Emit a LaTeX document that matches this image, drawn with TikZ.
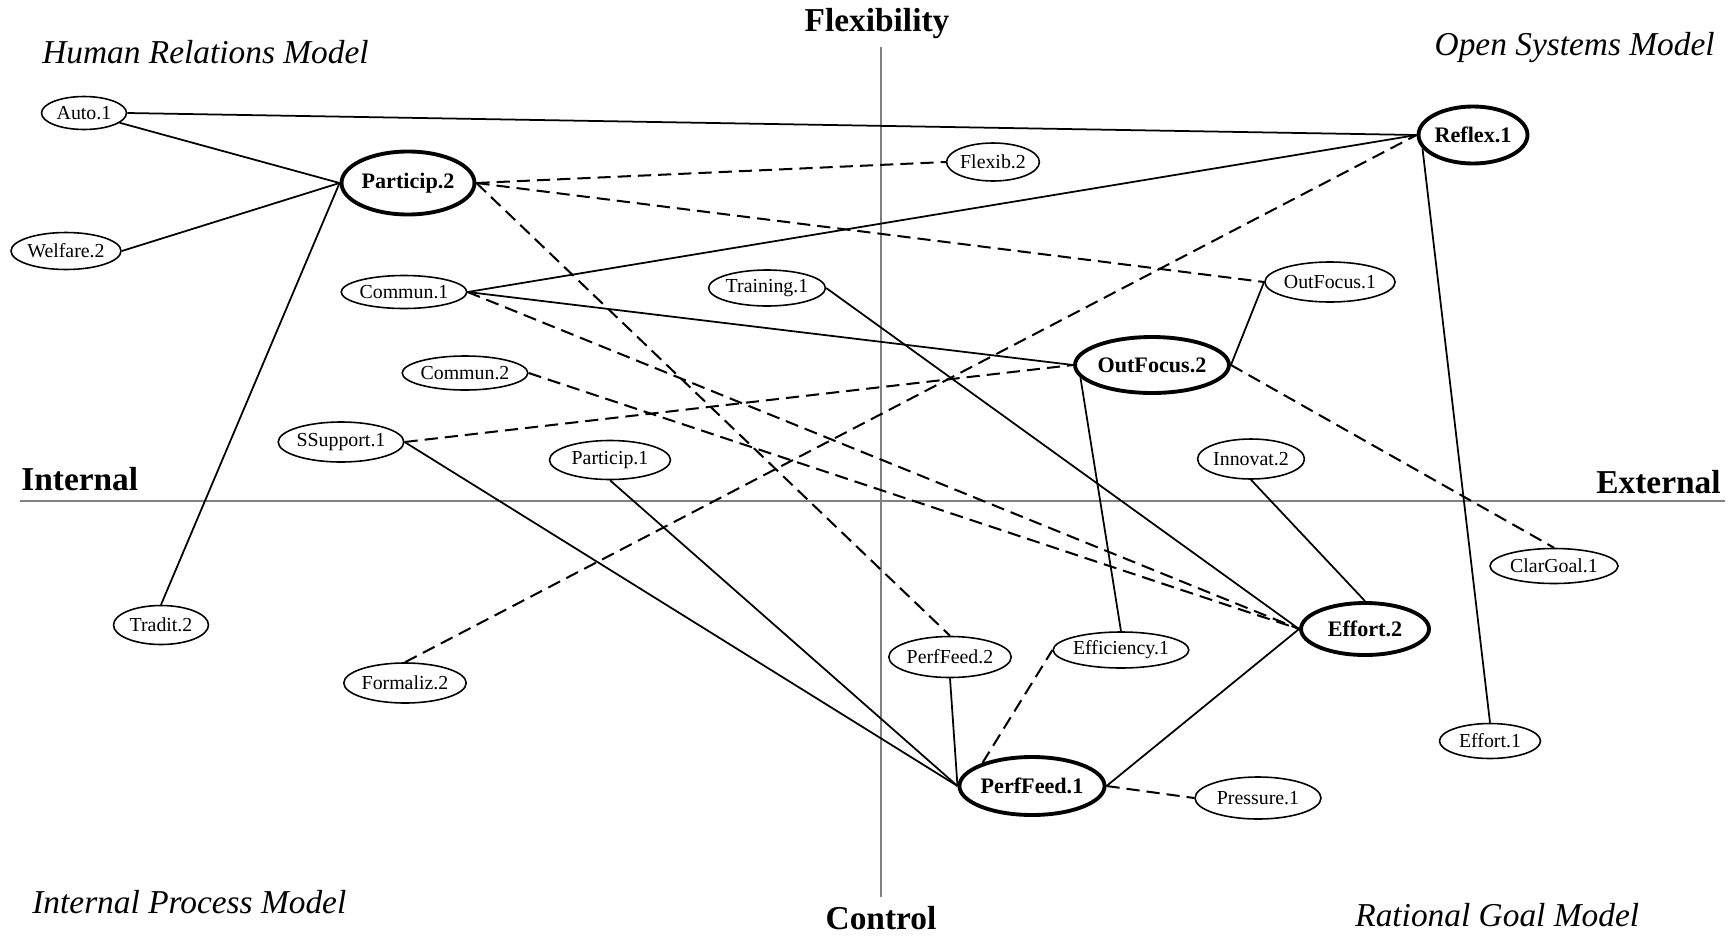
\documentclass[tikz,border=0pt]{standalone}
\usepackage{fontspec}
\setmainfont{Liberation Serif}
\usetikzlibrary{shapes.geometric}
\begin{document}
\begin{tikzpicture}[x=0.02cm,y=-0.02cm,
  nd/.style={ellipse,draw,line width=0.9pt,inner sep=0pt,font=\fontsize{11.3}{13}\selectfont},
  bnd/.style={ellipse,draw,line width=2.2pt,inner sep=0pt,font=\fontsize{12.6}{14}\selectfont\bfseries},
  sz/.style 2 args={minimum width=#1,minimum height=#2},
  conn/.style={line width=1pt},
  dconn/.style={line width=1.15pt,dash pattern=on 7.5pt off 4pt},
  axisline/.style={line width=0.6pt,black!50},
  quad/.style={font=\fontsize{19}{22}\selectfont\itshape,inner sep=0pt},
  axl/.style={font=\fontsize{19}{22}\selectfont\bfseries,inner sep=0pt}]
\useasboundingbox (0,0) rectangle (1735,937);

% axes
\coordinate (vtop) at (881,47);
\coordinate (vbot) at (881,897);
\coordinate (hleft) at (20,501);
\coordinate (hright) at (1725,501);
\draw[axisline] (vtop) -- (vbot);
\draw[axisline] (hleft) -- (hright);

% labels
\node[quad,anchor=base west] (hrm) at (42,63) {Human Relations Model};
\node[quad,anchor=base east] (osm) at (1715,55) {Open Systems Model};
\node[quad,anchor=base west] (ipm) at (32,913) {Internal Process Model};
\node[quad,anchor=base west] (rgm) at (1355,926) {Rational Goal Model};
\node[axl,anchor=base] (flex) at (877,31) {Flexibility};
\node[axl,anchor=base] (ctrl) at (881,929) {Control};
\node[axl,anchor=base west] (intl) at (21,490) {Internal};
\node[axl,anchor=base east] (extl) at (1721,493) {External};

% nodes
\node[nd,sz={1.70cm}{0.66cm}] (auto) at (84,113) {Auto.1};
\node[nd,sz={2.20cm}{0.74cm}] (welf) at (66,251) {Welfare.2};
\node[bnd,sz={2.66cm}{1.26cm}] (part2) at (408,183) {Particip.2};
\node[nd,sz={2.30cm}{0.66cm}] (comm1) at (404,292) {Commun.1};
\node[nd,sz={1.76cm}{0.76cm}] (flex2) at (993,162) {Flexib.2};
\node[nd,sz={2.26cm}{0.72cm}] (train1) at (767,288) {Training.1};
\node[bnd,sz={2.18cm}{1.14cm}] (reflex) at (1473,135) {Reflex.1};
\node[nd,sz={2.28cm}{0.80cm}] (outf1) at (1330,282) {OutFocus.1};
\node[nd,sz={2.28cm}{0.68cm}] (comm2) at (465,373) {Commun.2};
\node[nd,sz={2.36cm}{0.80cm}] (ssup1) at (341,442) {SSupport.1};
\node[nd,sz={1.90cm}{0.78cm}] (trad2) at (161,625) {Tradit.2};
\node[nd,sz={2.36cm}{0.80cm}] (form2) at (405,683) {Formaliz.2};
\node[nd,sz={2.42cm}{0.78cm}] (part1) at (610,460) {Particip.1};
\node[bnd,sz={2.66cm}{1.12cm}] (outf2) at (1152,365) {OutFocus.2};
\node[nd,sz={2.30cm}{0.82cm}] (perff2) at (950,657) {PerfFeed.2};
\node[nd,sz={2.54cm}{0.72cm}] (eff1) at (1121,650) {Efficiency.1};
\node[nd,sz={2.00cm}{0.80cm}] (innov2) at (1251,459) {Innovat.2};
\node[nd,sz={2.56cm}{0.70cm}] (clar1) at (1554,566) {ClarGoal.1};
\node[bnd,sz={2.56cm}{1.04cm}] (effort2) at (1365,629) {Effort.2};
\node[bnd,sz={2.64cm}{1.16cm}] (perff1) at (1032,786) {PerfFeed.1};
\node[nd,sz={2.52cm}{0.84cm}] (press1) at (1258,798) {Pressure.1};
\node[nd,sz={2.02cm}{0.70cm}] (effort1) at (1490,741) {Effort.1};

% solid connectors
\draw[conn] (auto.east) -- (reflex.west);
\draw[conn] (auto) -- (part2.west);
\draw[conn] (welf.east) -- (part2.west);
\draw[conn] (part2.west) -- (trad2.north);
\draw[conn] (comm1.east) -- (reflex.west);
\draw[conn] (comm1.east) -- (outf2.west);
\draw[conn] (train1.east) -- (effort2.west);
\draw[conn] (ssup1.east) -- (perff1.west);
\draw[conn] (part1.south) -- (perff1.west);
\draw[conn] (outf2.east) -- (outf1.west);
\draw[conn] (outf2.190) -- (eff1.north);
\draw[conn] (reflex.195) -- (effort1.north);
\draw[conn] (innov2.south) -- (effort2.north);
\draw[conn] (effort2.west) -- (perff1.east);
\draw[conn] (perff2.south) -- (perff1.west);

% dashed connectors
\draw[dconn] (comm1.east) -- (effort2.west);
\draw[dconn] (comm2.east) -- (effort2.west);
\draw[dconn] (ssup1.east) -- (outf2.west);
\draw[dconn] (form2.north) -- (reflex.west);
\draw[dconn] (part2.east) -- (flex2.west);
\draw[dconn] (part2.east) -- (outf1.west);
\draw[dconn] (part2.east) -- (perff2.north);
\draw[dconn] (outf2.east) -- (clar1.north);
\draw[dconn] (perff1.155) -- (eff1.west);
\draw[dconn] (perff1.east) -- (press1.west);
\end{tikzpicture}
\end{document}
